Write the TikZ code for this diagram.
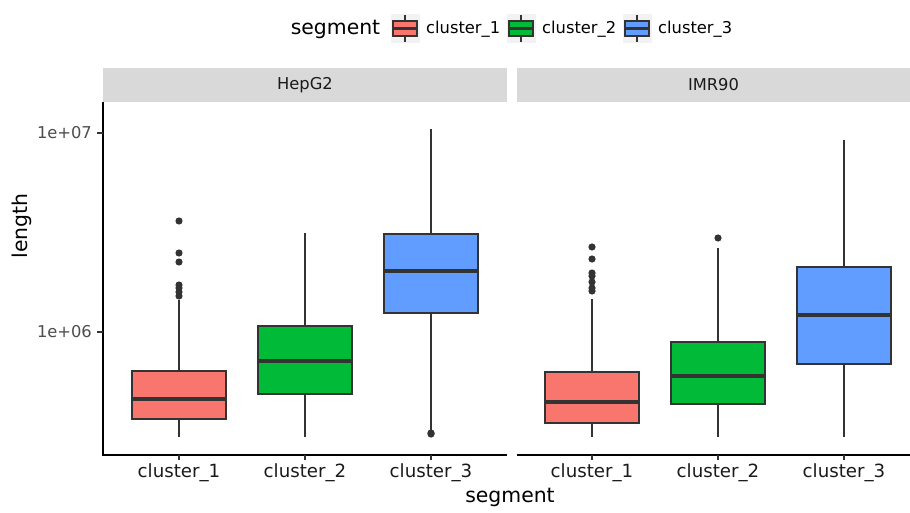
\documentclass[tikz,border=0pt]{standalone}
\usepackage{fontspec}
\setmainfont{DejaVu Sans}
\usetikzlibrary{positioning}

\definecolor{clred}{HTML}{F8766D}
\definecolor{clgreen}{HTML}{00BA38}
\definecolor{clblue}{HTML}{619CFF}
\definecolor{grey20}{HTML}{333333}
\definecolor{grey30}{HTML}{4D4D4D}
\definecolor{grey10}{HTML}{1A1A1A}
\definecolor{grey85}{HTML}{D9D9D9}
\definecolor{grey95}{HTML}{F2F2F2}

\begin{document}
\begin{tikzpicture}[x=1pt, y=-1pt,
  every node/.style={inner sep=0pt, font=\fontsize{16.3}{19}\selectfont},
  bigtext/.style={font=\fontsize{20.4}{24}\selectfont},
  ticklab/.style={text=grey30},
  xticklab/.style={text=grey10, font=\fontsize{18.2}{21}\selectfont},
  boxline/.style={draw=grey20, line width=2pt},
  medline/.style={draw=grey20, line width=3.8pt},
  axisline/.style={draw=black, line width=1.9pt},
  tickline/.style={draw=grey20, line width=1.6pt},
  strip/.style={fill=grey85, draw=none},
  outlier/.style={fill=grey20, draw=none}
]
  \useasboundingbox (0,0) rectangle (910,513);

  % facet strips
  \fill[strip] (103,68) rectangle (507,102);
  \fill[strip] (517,68) rectangle (910,102);
  \node[text=grey10] (hepg2) at (305,85) {HepG2};
  \node[text=grey10] (imr90) at (713.5,85) {IMR90};

  % axes
  \draw[axisline] (103,102) -- (103,455) -- (507,455);
  \draw[axisline] (517,455) -- (910,455);
  \foreach \ty/\tl in {133/1e+07, 332/1e+06} {
    \draw[tickline] (97,\ty) -- (103,\ty);
    \node[ticklab, anchor=east] (ylab\tl) at (92,\ty) {\tl};
  }
  \foreach \tx/\tl in {179/cluster\_1, 305/cluster\_2, 431/cluster\_3,
                       592/cluster\_1, 718/cluster\_2, 844/cluster\_3} {
    \draw[tickline] (\tx,455) -- (\tx,460);
    \node[xticklab, anchor=base] (xlab\tx) at (\tx,477) {\tl};
  }
  \node[bigtext, anchor=base] (xtitle) at (510,502) {segment};
  \node[bigtext, rotate=90] (ytitle) at (22,226) {length};

  % boxes: centre / lower whisker / q1 / median / q3 / upper whisker / fill
  \foreach \cx/\lo/\qa/\md/\qb/\hi/\col in {
      179/437/419/399/371/300/clred, 305/437/394/361/326/233/clgreen,
      431/433/313/271/234/129/clblue, 592/437/423/402/372/299/clred,
      718/437/404/376/342/248/clgreen, 844/437/364/315/267/140/clblue} {
    \draw[boxline] (\cx,\lo) -- (\cx,\hi);
    \draw[boxline, fill=\col] (\cx-47,\qa) rectangle (\cx+47,\qb);
    \draw[medline] (\cx-47,\md) -- (\cx+47,\md);
  }

  % outliers
  \foreach \ox/\oy in {179/221, 179/253, 179/262, 179/285, 179/288, 179/292,
                       179/296, 431/433, 431/434, 592/247, 592/259, 592/273,
                       592/276, 592/282, 592/288, 592/291, 718/238}
    \fill[outlier] (\ox,\oy) circle (3.6);

  % legend
  \node[bigtext, anchor=base] (lgtitle) at (335.5,35) {segment};
  \foreach \kx/\col/\tl in {405/clred/cluster\_1, 521/clgreen/cluster\_2,
                            637/clblue/cluster\_3} {
    \fill[grey95] (\kx-14.5,14) rectangle (\kx+14.5,43);
    \draw[tickline] (\kx,15) -- (\kx,42);
    \draw[boxline, fill=\col] (\kx-12,21) rectangle (\kx+12,36);
    \draw[medline, line width=2.4pt] (\kx-12,28.5) -- (\kx+12,28.5);
    \node[anchor=base west] (key\kx) at (\kx+21,34) {\tl};
  }
\end{tikzpicture}
\end{document}
